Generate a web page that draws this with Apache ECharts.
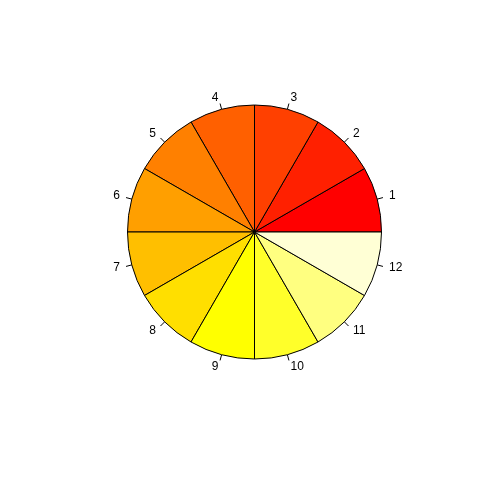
<!DOCTYPE html>
<html>
<head>
<meta charset="utf-8">
<script src="https://cdn.jsdelivr.net/npm/echarts@6/dist/echarts.min.js"></script>
<style>
  html, body { margin: 0; padding: 0; background: #fff; }
  #chart { width: 480px; height: 480px; }
</style>
</head>
<body>
<div id="chart"></div>
<script>
// slice names and sizes (12 equal slices)
var labels = ['1', '2', '3', '4', '5', '6', '7', '8', '9', '10', '11', '12'];
var values = [1, 1, 1, 1, 1, 1, 1, 1, 1, 1, 1, 1];
// heat.colors(12)
var colors = ['#FF0000', '#FF2000', '#FF4000', '#FF6000', '#FF8000', '#FF9F00',
              '#FFBF00', '#FFDF00', '#FFFF00', '#FFFF2A', '#FFFF80', '#FFFFD5'];

function initPie(){
    var chartDom = document.getElementById('chart');
    var myChart = echarts.init(chartDom);
    var R = 127;
    var total = values.reduce(function(a, b){ return a + b; }, 0);

    var pieData = [];
    labels.forEach(function(name, i){
        pieData.push({ name: name, value: values[i], itemStyle: { color: colors[i] } });
    });

    var option = {
        animation: false,
        series: [{
            type: 'pie',
            center: [254.5, 232],
            radius: [0, R],
            startAngle: 0,
            clockwise: false,
            avoidLabelOverlap: false,
            data: pieData,
            itemStyle: { borderColor: '#000', borderWidth: 1 },
            label: {
                show: true,
                position: 'outside',
                formatter: '{b}',
                color: '#000',
                fontSize: 12,
                fontFamily: 'Liberation Sans, Arial, sans-serif',
                distanceToLabelLine: 0
            },
            labelLine: {
                show: true,
                length: 6,
                length2: 0,
                smooth: false,
                lineStyle: { color: '#000', width: 1 }
            },
            // push the text out to 1.1 x radius, like R's pie()
            labelLayout: function(params){
                var cum = 0;
                for (var k = 0; k < params.dataIndex; k++) cum += values[k];
                var mid = (cum + values[params.dataIndex] / 2) / total * 2 * Math.PI;
                return {
                    dx: 0.05 * R * Math.cos(mid),
                    dy: -0.05 * R * Math.sin(mid)
                };
            },
            emphasis: { disabled: true }
        }]
    };

    option && myChart.setOption(option);
}

document.addEventListener('DOMContentLoaded', function(){
    initPie();
});
</script>
</body>
</html>
